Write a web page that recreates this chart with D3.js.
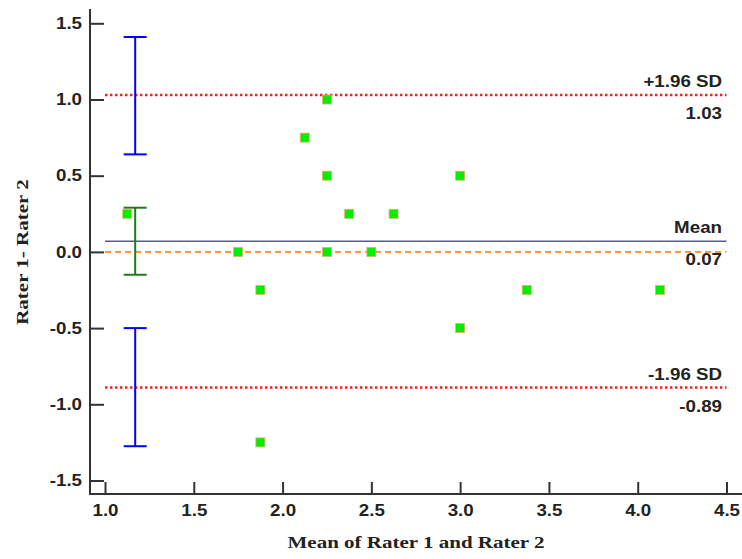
<!DOCTYPE html>
<html>
<head>
<meta charset="utf-8">
<script src="https://cdn.jsdelivr.net/npm/d3@7"></script>
<style>
  body { margin: 0; background: #fff; }
  svg { display: block; }
</style>
</head>
<body>
<svg width="742" height="559"></svg>
<script>
  // mean of the two raters / difference between them
  var meanVals = [1.125, 1.75, 1.875, 1.875, 2.125, 2.25, 2.25, 2.25, 2.375, 2.5, 2.625, 3.0, 3.0, 3.375, 4.125];
  var diffVals = [0.25, 0, -0.25, -1.25, 0.75, 1.0, 0.5, 0, 0.25, 0, 0.25, 0.5, -0.5, -0.25, -0.25];

  // reference lines
  var lineNames = ["+1.96 SD", "Mean", "-1.96 SD"];
  var lineValues = [1.03, 0.07, -0.89];

  // confidence interval bars [low, high]
  var ciColors = ["#0000ff", "#1f7a1f", "#0000ff"];
  var ciLow = [0.64, -0.15, -1.275];
  var ciHigh = [1.41, 0.29, -0.50];
  var ciAt = 1.17;

  var xTicks = [1.0, 1.5, 2.0, 2.5, 3.0, 3.5, 4.0, 4.5];
  var yTicks = [-1.5, -1.0, -0.5, 0.0, 0.5, 1.0, 1.5];

  var svg = d3.select("svg");
  var axisLeftX = 90, axisBottomY = 494;

  var x = d3.scaleLinear().domain([1, 4.5]).range([105, 726.5]);
  var y = d3.scaleLinear().domain([-1.5, 1.5]).range([480.5, 23.3]);

  // plain hyphen minus like the original
  function fmt(n) { return function(d) { return d.toFixed(n); }; }

  // stretch text a bit wider, the original is horizontally scaled
  function stretch(sel, k) {
    sel.each(function() {
      var w = this.getComputedTextLength();
      d3.select(this).attr("textLength", w * k).attr("lengthAdjust", "spacingAndGlyphs");
    });
  }

  var sansFont = "'Liberation Sans', Arial, sans-serif";
  var serifFont = "'Liberation Serif', 'Times New Roman', serif";

  // axes
  var gx = svg.append("g")
    .attr("transform", "translate(0," + axisBottomY + ")")
    .call(d3.axisBottom(x).tickValues(xTicks).tickFormat(fmt(1)).tickSizeInner(-12).tickSizeOuter(0).tickPadding(12));
  gx.select(".domain").remove();
  gx.selectAll(".tick line").attr("stroke", "#333").attr("stroke-width", 2);
  gx.selectAll(".tick text")
    .attr("font-family", sansFont).attr("font-weight", "bold").attr("font-size", 16).attr("fill", "#222")
    .attr("y", 11);

  var gy = svg.append("g")
    .attr("transform", "translate(" + axisLeftX + ",0)")
    .call(d3.axisLeft(y).tickValues(yTicks).tickFormat(fmt(1)).tickSizeInner(-14).tickSizeOuter(0).tickPadding(8));
  gy.select(".domain").remove();
  gy.selectAll(".tick line").attr("stroke", "#333").attr("stroke-width", 2);
  gy.selectAll(".tick text")
    .attr("font-family", sansFont).attr("font-weight", "bold").attr("font-size", 16).attr("fill", "#222")
    .attr("x", -8);

  svg.append("line")
    .attr("x1", axisLeftX).attr("x2", axisLeftX)
    .attr("y1", 9).attr("y2", axisBottomY + 1)
    .attr("stroke", "#333").attr("stroke-width", 2);
  svg.append("line")
    .attr("x1", axisLeftX - 1).attr("x2", 742)
    .attr("y1", axisBottomY).attr("y2", axisBottomY)
    .attr("stroke", "#333").attr("stroke-width", 2);

  // zero line
  svg.append("line")
    .attr("x1", x(1)).attr("x2", x(4.5))
    .attr("y1", y(0)).attr("y2", y(0))
    .attr("stroke", "#ff8a2a").attr("stroke-width", 1.8)
    .attr("stroke-dasharray", "6,4");

  // limits of agreement and mean
  svg.selectAll(".ref")
    .data(lineValues)
    .enter()
    .append("line")
    .attr("class", "ref")
    .attr("x1", x(1)).attr("x2", x(4.5))
    .attr("y1", function(d) { return y(d); })
    .attr("y2", function(d) { return y(d); })
    .attr("stroke", function(d, i) { return i == 1 ? "#5656b0" : "#ff1a1a"; })
    .attr("stroke-width", function(d, i) { return i == 1 ? 1.6 : 2.6; })
    .attr("stroke-dasharray", function(d, i) { return i == 1 ? null : "2.4,2.6"; });

  // CI bars
  var ci = svg.selectAll(".ci")
    .data(ciLow)
    .enter()
    .append("g")
    .attr("class", "ci")
    .attr("stroke", function(d, i) { return ciColors[i]; })
    .attr("stroke-width", 2);
  ci.append("line")
    .attr("x1", x(ciAt)).attr("x2", x(ciAt))
    .attr("y1", function(d, i) { return y(ciHigh[i]); })
    .attr("y2", function(d) { return y(d); });
  ci.append("line")
    .attr("x1", x(ciAt) - 11.5).attr("x2", x(ciAt) + 11.5)
    .attr("y1", function(d, i) { return y(ciHigh[i]); })
    .attr("y2", function(d, i) { return y(ciHigh[i]); });
  ci.append("line")
    .attr("x1", x(ciAt) - 11.5).attr("x2", x(ciAt) + 11.5)
    .attr("y1", function(d) { return y(d); })
    .attr("y2", function(d) { return y(d); });

  // points
  var sz = 9;
  svg.selectAll(".pt")
    .data(meanVals)
    .enter()
    .append("rect")
    .attr("class", "pt")
    .attr("x", function(d) { return x(d) - sz / 2; })
    .attr("y", function(d, i) { return y(diffVals[i]) - sz / 2; })
    .attr("width", sz).attr("height", sz)
    .attr("fill", "#00ee00")
    .attr("stroke", "#e8b060").attr("stroke-width", 0.8);

  // line labels: name above, value below
  var labRight = 722;
  lineNames.forEach(function(name, i) {
    var v = lineValues[i];
    var top = svg.append("text")
      .attr("x", labRight).attr("y", y(v) - 8)
      .attr("text-anchor", "end")
      .attr("font-family", sansFont).attr("font-weight", "bold").attr("font-size", 16).attr("fill", "#222")
      .text(name);
    var bottomTxt = svg.append("text")
      .attr("x", labRight).attr("y", y(v) + 24)
      .attr("text-anchor", "end")
      .attr("font-family", sansFont).attr("font-weight", "bold").attr("font-size", 16).attr("fill", "#222")
      .text(fmt(2)(v));
    stretch(top, 1.17);
    stretch(bottomTxt, 1.17);
    var bb = bottomTxt.node().getBBox();
    svg.insert("rect", function() { return bottomTxt.node(); })
      .attr("x", bb.x - 3).attr("y", bb.y + 2)
      .attr("width", bb.width + 6).attr("height", bb.height - 4)
      .attr("fill", "#fff");
  });

  stretch(gx.selectAll(".tick text"), 1.17);
  stretch(gy.selectAll(".tick text"), 1.17);

  // axis titles
  var xt = svg.append("text")
    .attr("x", 416).attr("y", 548)
    .attr("text-anchor", "middle")
    .attr("font-family", serifFont).attr("font-weight", "bold").attr("font-size", 17.5).attr("fill", "#222")
    .text("Mean of Rater 1 and Rater 2");
  stretch(xt, 1.2);

  var yt = svg.append("text")
    .attr("transform", "translate(28,252) rotate(-90)")
    .attr("text-anchor", "middle")
    .attr("font-family", serifFont).attr("font-weight", "bold").attr("font-size", 17.5).attr("fill", "#222")
    .text("Rater 1- Rater 2");
  stretch(yt, 1.2);
</script>
</body>
</html>
